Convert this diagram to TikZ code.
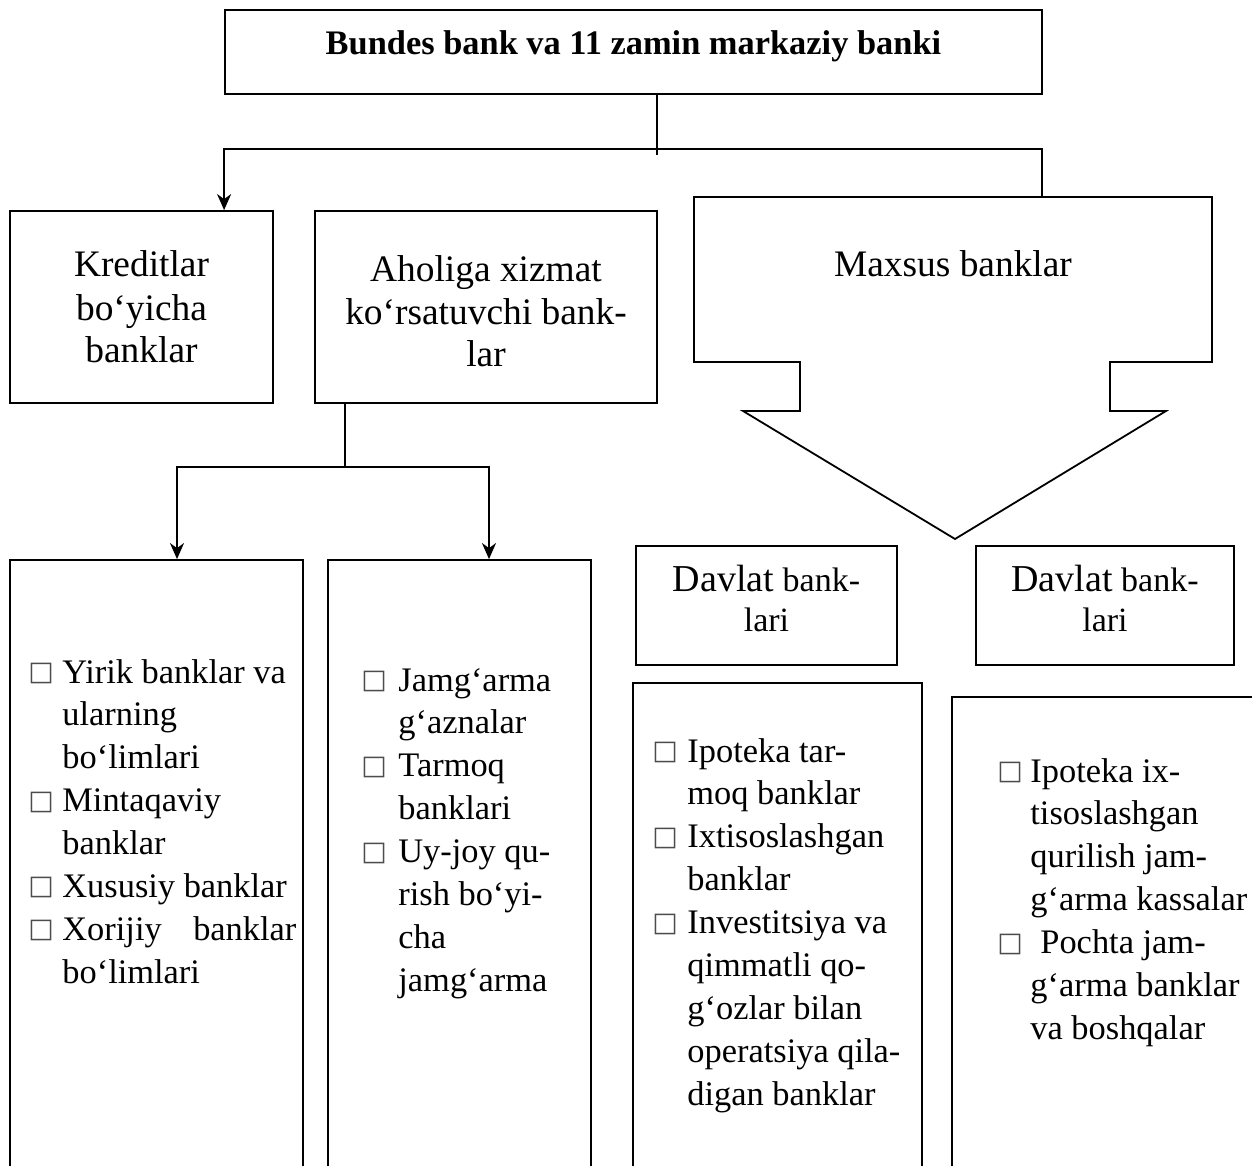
\documentclass[tikz,border=0pt]{standalone}
\usepackage{fontspec}
\setmainfont{Liberation Serif}
\newfontfamily\symfont{DejaVu Sans}
\usepackage{xcolor}
\usepackage{tikz}
\usetikzlibrary{arrows.meta}
\usetikzlibrary{fit}

\newcommand{\bx}{\hspace{-1.5pt}\raisebox{1.3pt}{\symfont\fontsize{13.5}{13.5}\selectfont\textcolor{black!70}{□}}}
\newcommand{\itm}[1][16pt]{\makebox[#1][l]{\bx}}
\newcommand{\hd}{\fontsize{18.7}{21.5}\selectfont}
\newcommand{\ls}{\fontsize{17.2}{21.45}\selectfont}

\begin{document}
\begin{tikzpicture}[x=0.5pt,y=-0.5pt,
    box/.style={draw,line width=0.9pt,inner sep=0pt},
    link/.style={line width=0.9pt},
    arr/.style={line width=0.9pt,-{Stealth[length=8pt,width=7pt,inset=2.5pt]}},
    txt/.style={inner sep=0pt,anchor=base},
    lst/.style={inner sep=0pt,anchor=base west,font=\ls}]
    \useasboundingbox (0,0) rectangle (1252,1166);
    \node[box,fit={(225,10) (1042,94)}] (bund) {};
    \node[box,fit={(10,211) (273,403)}] (kred) {};
    \node[box,fit={(315,211) (657,403)}] (ahol) {};
    \node[box,fit={(636,546) (897,665)}] (dav1) {};
    \node[box,fit={(976,546) (1234,665)}] (dav2) {};
    \node[box,fit={(10,560) (303,1180)}] (lst1) {};
    \node[box,fit={(328,560) (591,1180)}] (lst2) {};
    \node[box,fit={(633,683) (922,1180)}] (lst3) {};
    \node[box,fit={(952,697) (1262,1180)}] (lst4) {};
    \draw[link] (694,197) -- (1212,197) -- (1212,362) -- (1110,362) -- (1110,411) -- (1166,411)
      -- (955,539) -- (743,411) -- (800,411) -- (800,362) -- (694,362) -- cycle;
    \coordinate (maxs) at (1042,197);
    \coordinate (split) at (657,149);
    \coordinate (split2) at (345,467);
    \draw[link] (bund.south -| split) -- ([yshift=-3pt]split);
    \draw[arr] (split) -| (kred.north -| bund.west);
    \draw[link] (split) -| (maxs);
    \draw[link] (ahol.south -| split2) -- (split2);
    \draw[arr] (split2) -| ([xshift=10.25pt]lst1.north);
    \draw[arr] (split2) -| ([xshift=14.75pt]lst2.north);
    \node[txt,font=\bfseries\ls] (bundt) at (633.5,55) {Bundes bank va 11 zamin markaziy banki};
    \node[txt,font=\hd] (kredt) at (141.5,277) {\begin{tabular}[t]{@{}c@{}}Kreditlar\\ bo‘yicha\\ banklar\end{tabular}};
    \node[txt,font=\hd] (aholt) at (486,281) {\begin{tabular}[t]{@{}c@{}}Aholiga xizmat\\ ko‘rsatuvchi bank-\\ lar\end{tabular}};
    \node[txt,font=\hd] (maxst) at (953,277) {Maxsus banklar};
    \node[txt,font=\fontsize{17}{20}\selectfont] (dav1t) at (766.5,591)
      {\begin{tabular}[t]{@{}c@{}}{\fontsize{19}{20}\selectfont Davlat} bank-\\ lari\end{tabular}};
    \node[txt,font=\fontsize{17}{20}\selectfont] (dav2t) at (1105,591)
      {\begin{tabular}[t]{@{}c@{}}{\fontsize{19}{20}\selectfont Davlat} bank-\\ lari\end{tabular}};
    \node[lst] (lst1t) at (31,683) {\begin{tabular}[t]{@{}l@{}l@{}}
      \itm[15.5pt] & Yirik banklar va\\
       & ularning\\
       & bo‘limlari\\
      \itm[15.5pt] & Mintaqaviy\\
       & banklar\\
      \itm[15.5pt] & Xususiy banklar\\
      \itm[15.5pt] & \makebox[117pt][l]{Xorijiy\hfill banklar}\\
       & bo‘limlari
    \end{tabular}};
    \node[lst] (lst2t) at (364,691) {\begin{tabular}[t]{@{}l@{}l@{}}
      \itm[17pt] & Jamg‘arma\\
       & g‘aznalar\\
      \itm[17pt] & Tarmoq\\
       & banklari\\
      \itm[17pt] & Uy-joy qu-\\
       & rish bo‘yi-\\
       & cha\\
       & jamg‘arma
    \end{tabular}};
    \node[lst] (lst3t) at (655,762) {\begin{tabular}[t]{@{}l@{}l@{}}
      \itm & Ipoteka tar-\\
       & moq banklar\\
      \itm & Ixtisoslashgan\\
       & banklar\\
      \itm & Investitsiya va\\
       & qimmatli qo-\\
       & g‘ozlar bilan\\
       & operatsiya qila-\\
       & digan banklar
    \end{tabular}};
    \node[lst] (lst4t) at (1000,782) {\begin{tabular}[t]{@{}l@{}l@{}}
      \itm[15pt] & Ipoteka ix-\\
       & tisoslashgan\\
       & qurilish jam-\\
       & g‘arma kassalar\\
      \itm[15pt] & \hspace{5pt}Pochta jam-\\
       & g‘arma banklar\\
       & va boshqalar
    \end{tabular}};
\end{tikzpicture}
\end{document}
